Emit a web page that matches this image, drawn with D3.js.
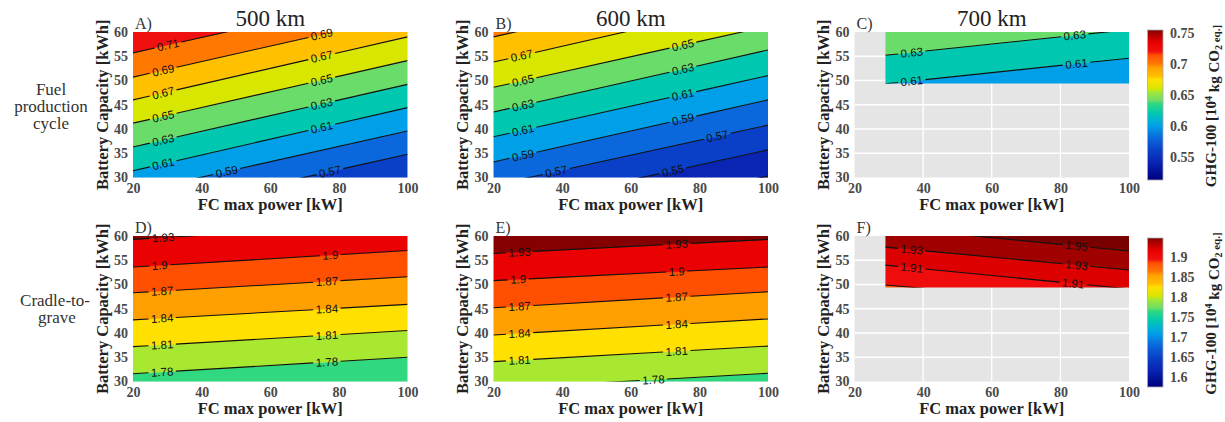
<!DOCTYPE html>
<html>
<head>
<meta charset="utf-8">
<script src="https://cdnjs.cloudflare.com/ajax/libs/d3/7.8.5/d3.min.js"></script>
<style>
  body { margin: 0; background: #fff; }
  .axis text { font-family: "Liberation Serif", serif; font-weight: bold; font-size: 14px; fill: #4a4a4a; }
  .axisLabel { font-family: "Liberation Serif", serif; font-weight: bold; font-size: 16.5px; fill: #222; }
  .panelTitle { font-family: "Liberation Serif", serif; font-size: 23px; fill: #222; }
  .panelLetter { font-family: "Liberation Serif", serif; font-size: 16px; fill: #333; }
  .rowName { font-family: "Liberation Serif", serif; font-size: 17px; fill: #333; }
  .clabel { font-family: "Liberation Sans", Arial, sans-serif; font-size: 11.5px; fill: #111; }
</style>
</head>
<body>
<div id="chart"></div>
<script>

//////////////////////////////////////////////////////////////
///////////////////////////// Data ///////////////////////////
//////////////////////////////////////////////////////////////

var powerTicks = [20, 40, 60, 80, 100];
var capacityTicks = [30, 35, 40, 45, 50, 55, 60];
var rangeTitles = ["500 km", "600 km", "700 km"];
var rowNames = [["Fuel", "production", "cycle"], ["Cradle-to-", "grave"]];
var panelLetters = ["A)", "B)", "C)", "D)", "E)", "F)"];

//power / capacity extent of the solved region
var fullPower = [20, 100], fullCap = [30, 60];
var power700 = [29, 100], cap700 = [49.4, 60];

//GHG-100 contour levels and the battery capacity [kWh] where each line
//meets the left and right edge of the solved region
var fuel500Levels = [0.57, 0.59, 0.61, 0.63, 0.65, 0.67, 0.69, 0.71];
var fuel500Left   = [22.1, 26.9, 31.4, 36.3, 41.2, 46.0, 50.7, 55.7];
var fuel500Right  = [34.8, 39.6, 44.4, 49.2, 54.1, 59.0, 63.5, 68.4];

var fuel600Levels = [0.53, 0.55, 0.57, 0.59, 0.61, 0.63, 0.65, 0.67, 0.69];
var fuel600Left   = [17.9, 23.3, 28.4, 33.2, 38.4, 43.5, 48.6, 53.8, 59.0];
var fuel600Right  = [30.3, 35.7, 40.8, 46.0, 51.0, 56.3, 61.2, 66.8, 71.8];

var fuel700Levels = [0.61, 0.63];
var fuel700Left   = [49.3, 55.2];
var fuel700Right  = [54.6, 60.5];

var grave500Levels = [1.78, 1.81, 1.84, 1.87, 1.90, 1.93];
var grave500Left   = [31.6, 37.2, 42.7, 48.3, 53.6, 59.3];
var grave500Right  = [35.0, 40.5, 45.9, 51.6, 57.0, 62.7];

var grave600Levels = [1.78, 1.81, 1.84, 1.87, 1.90, 1.93];
var grave600Left   = [28.5, 34.1, 39.6, 45.2, 50.8, 56.4];
var grave600Right  = [31.7, 37.3, 42.9, 48.5, 53.6, 59.3];

var grave700Levels = [1.89, 1.91, 1.93, 1.95];
var grave700Left   = [49.9, 54.0, 57.7, 61.8];
var grave700Right  = [45.5, 49.1, 53.0, 56.9];

//colour bars
var fuelBarDomain = [0.512, 0.755], graveBarDomain = [1.575, 1.9475];
var fuelBarTicks = [0.55, 0.6, 0.65, 0.7, 0.75];
var graveBarTicks = [1.6, 1.65, 1.7, 1.75, 1.8, 1.85, 1.9];

//inline contour labels: [level, power where the label sits]
var fuel500Labels = [[0.57, 77.4], [0.59, 47.3], [0.61, 28.8], [0.61, 75], [0.63, 28.8], [0.63, 75], [0.65, 28.8], [0.65, 75], [0.67, 28.8], [0.67, 75], [0.69, 28.8], [0.69, 75], [0.71, 30.2]];
var fuel600Labels = [[0.55, 72.3], [0.57, 38.3], [0.57, 85.2], [0.59, 28.6], [0.59, 75.2], [0.61, 28.6], [0.61, 75.2], [0.63, 28.6], [0.63, 75.2], [0.65, 28.6], [0.65, 75.2], [0.67, 28.2]];
var fuel700Labels = [[0.61, 36.7], [0.61, 84.7], [0.63, 36.7], [0.63, 84.2]];
var grave500Labels = [[1.78, 28.5], [1.78, 76.5], [1.81, 28.5], [1.81, 76.5], [1.84, 28.5], [1.84, 76.5], [1.87, 28.5], [1.87, 76.5], [1.90, 27.8], [1.90, 77.5], [1.93, 28.8]];
var grave600Labels = [[1.78, 66.6], [1.81, 27.6], [1.81, 73.4], [1.84, 27.6], [1.84, 73.4], [1.87, 27.6], [1.87, 73.4], [1.90, 27.2], [1.90, 73.4], [1.93, 27.6], [1.93, 73.4]];
var grave700Labels = [[1.91, 36.7], [1.91, 83.7], [1.93, 36.7], [1.93, 84.7], [1.95, 84.7]];

//////////////////////////////////////////////////////////////
//////////////////////// Set up the svg //////////////////////
//////////////////////////////////////////////////////////////

var width = 1225, height = 422;
var colLeft = [133, 493.5, 854.5], rowTop = [32, 236];
var plotW = 274.5, plotH = 145.5;

var svg = d3.select("#chart").append("svg")
  .attr("width", width)
  .attr("height", height);

var x = d3.scaleLinear().domain([20, 100]).range([0, plotW]);
var y = d3.scaleLinear().domain([30, 60]).range([plotH, 0]);

//jet-like colour map as it appears in the figure
var cmapStops = [0, 0.033, 0.115, 0.198, 0.28, 0.362, 0.444, 0.51, 0.527, 0.591, 0.609, 0.671, 0.691, 0.752, 0.774, 0.832, 0.856, 0.915, 0.98, 1];
var cmapColors = ["#00007c", "#000a8c", "#0a24b4", "#0a40c8", "#0a68dc", "#00a0e8", "#00c8b0", "#30d880", "#6adc6a", "#a8e830",
  "#d8e600", "#ffe000", "#ffc000", "#ffa000", "#ff7800", "#ff5000", "#f01010", "#ea0000", "#a00000", "#780000"];
var cmap = d3.scaleLinear().domain(cmapStops).range(cmapColors).clamp(true);
var rowNorm = [
  d3.scaleLinear().domain(fuelBarDomain).range([0, 1]),
  d3.scaleLinear().domain(graveBarDomain).range([0, 1])
];

var panels = [
  {row: 0, col: 0, levels: fuel500Levels, left: fuel500Left, right: fuel500Right, power: fullPower, cap: fullCap, labels: fuel500Labels},
  {row: 0, col: 1, levels: fuel600Levels, left: fuel600Left, right: fuel600Right, power: fullPower, cap: fullCap, labels: fuel600Labels},
  {row: 0, col: 2, levels: fuel700Levels, left: fuel700Left, right: fuel700Right, power: power700, cap: cap700, labels: fuel700Labels},
  {row: 1, col: 0, levels: grave500Levels, left: grave500Left, right: grave500Right, power: fullPower, cap: fullCap, labels: grave500Labels},
  {row: 1, col: 1, levels: grave600Levels, left: grave600Left, right: grave600Right, power: fullPower, cap: fullCap, labels: grave600Labels},
  {row: 1, col: 2, levels: grave700Levels, left: grave700Left, right: grave700Right, power: power700, cap: cap700, labels: grave700Labels}
];

var polygon = d3.line().x(function(d) { return x(d[0]); }).y(function(d) { return y(d[1]); });

//////////////////////////////////////////////////////////////
////////////////////////// Panels ////////////////////////////
//////////////////////////////////////////////////////////////

panels.forEach(function(p, i) {
  var g = svg.append("g")
    .attr("transform", "translate(" + colLeft[p.col] + "," + rowTop[p.row] + ")");

  //grey background + white grid
  g.append("rect").attr("width", plotW).attr("height", plotH).attr("fill", "#e5e5e5");
  g.selectAll(".vgrid").data(powerTicks.slice(1, -1)).enter().append("line")
    .attr("x1", x).attr("x2", x).attr("y1", 0).attr("y2", plotH)
    .attr("stroke", "#fff").attr("stroke-width", 1.3);
  g.selectAll(".hgrid").data(capacityTicks.slice(1, -1)).enter().append("line")
    .attr("y1", y).attr("y2", y).attr("x1", 0).attr("x2", plotW)
    .attr("stroke", "#fff").attr("stroke-width", 1.3);

  //clip to the solved region
  var clipId = "clip" + i;
  g.append("clipPath").attr("id", clipId).append("rect")
    .attr("x", x(p.power[0]))
    .attr("y", y(p.cap[1]))
    .attr("width", x(p.power[1]) - x(p.power[0]))
    .attr("height", y(p.cap[0]) - y(p.cap[1]));
  var field = g.append("g").attr("clip-path", "url(#" + clipId + ")");

  var n = p.levels.length;
  var step = p.levels[1] - p.levels[0];
  var norm = rowNorm[p.row];

  //filled bands between contour lines
  d3.range(n + 1).forEach(function(k) {
    var lo = k === 0 ? [-100, -100] : [p.left[k - 1], p.right[k - 1]];
    var hi = k === n ? [200, 200] : [p.left[k], p.right[k]];
    var mid = k === 0 ? p.levels[0] - step / 2 : (k === n ? p.levels[n - 1] + step / 2 : (p.levels[k - 1] + p.levels[k]) / 2);
    var pts = [[p.power[0], lo[0]], [p.power[1], lo[1]], [p.power[1], hi[1]], [p.power[0], hi[0]]];
    field.append("path")
      .attr("d", polygon(pts) + "Z")
      .attr("fill", cmap(norm(mid)))
      .attr("stroke", cmap(norm(mid)))
      .attr("stroke-width", 0.5);
  });

  //contour lines with inline labels
  p.levels.forEach(function(lev, k) {
    var x0 = x(p.power[0]), y0 = y(p.left[k]);
    var x1 = x(p.power[1]), y1 = y(p.right[k]);
    var len = Math.hypot(x1 - x0, y1 - y0);
    var ux = (x1 - x0) / len, uy = (y1 - y0) / len;
    var angle = Math.atan2(y1 - y0, x1 - x0) * 180 / Math.PI;

    var gaps = [];
    p.labels.filter(function(l) { return l[0] === lev; }).forEach(function(l) {
      var s = (x(l[1]) - x0) / ux;
      var px = x0 + ux * s, py = y0 + uy * s;
      var t = g.append("text")
        .attr("class", "clabel")
        .attr("text-anchor", "middle")
        .attr("dy", "0.35em")
        .attr("transform", "translate(" + px + "," + py + ") rotate(" + angle + ")")
        .text(String(+lev.toFixed(2)));
      var w = t.node().getComputedTextLength();
      gaps.push([s - w / 2 - 2.5, s + w / 2 + 2.5]);
    });
    gaps.sort(function(a, b) { return a[0] - b[0]; });

    var start = 0;
    gaps.concat([[len, len]]).forEach(function(gp) {
      if (gp[0] > start) {
        field.append("line")
          .attr("x1", x0 + ux * start).attr("y1", y0 + uy * start)
          .attr("x2", x0 + ux * gp[0]).attr("y2", y0 + uy * gp[0])
          .attr("stroke", "#111").attr("stroke-width", 1.1);
      }
      start = gp[1];
    });
  });

  //axes
  g.append("g").attr("class", "axis")
    .call(d3.axisLeft(y).tickValues(capacityTicks).tickSize(0).tickPadding(5))
    .call(function(a) { a.select(".domain").remove(); });
  g.append("g").attr("class", "axis")
    .attr("transform", "translate(0," + plotH + ")")
    .call(d3.axisBottom(x).tickValues(powerTicks).tickSize(0).tickPadding(6))
    .call(function(a) { a.select(".domain").remove(); });

  g.append("text").attr("class", "axisLabel")
    .attr("text-anchor", "middle")
    .attr("dy", "0.35em")
    .attr("transform", "translate(-31," + plotH / 2 + ") rotate(-90)")
    .text("Battery Capacity [kWh]");
  g.append("text").attr("class", "axisLabel")
    .attr("text-anchor", "middle")
    .attr("x", plotW / 2).attr("y", plotH + 32)
    .text("FC max power [kW]");

  g.append("text").attr("class", "panelLetter")
    .attr("x", 2).attr("y", -3)
    .text(panelLetters[i]);

  if (p.row === 0) {
    g.append("text").attr("class", "panelTitle")
      .attr("text-anchor", "middle")
      .attr("x", plotW / 2).attr("y", -6)
      .text(rangeTitles[p.col]);
  }
});

//////////////////////////////////////////////////////////////
////////////////////////// Row names /////////////////////////
//////////////////////////////////////////////////////////////

var rowNameX = [51, 55], rowNameY = [95, 306];
rowNames.forEach(function(lines, r) {
  lines.forEach(function(s, j) {
    svg.append("text").attr("class", "rowName")
      .attr("text-anchor", "middle")
      .attr("x", rowNameX[r] + (r === 1 && j === 1 ? 2 : 0))
      .attr("y", rowNameY[r] + j * 16.8)
      .text(s);
  });
});

//////////////////////////////////////////////////////////////
///////////////////////// Colour bars ////////////////////////
//////////////////////////////////////////////////////////////

var defs = svg.append("defs");
var grad = defs.append("linearGradient").attr("id", "jetGrad")
  .attr("x1", 0).attr("y1", 1).attr("x2", 0).attr("y2", 0);
grad.selectAll("stop").data(d3.range(0, 1.0001, 0.01)).enter().append("stop")
  .attr("offset", function(d) { return d; })
  .attr("stop-color", function(d) { return cmap(d); });

var bars = [
  {top: 30, h: 150, domain: fuelBarDomain, ticks: fuelBarTicks},
  {top: 238, h: 149, domain: graveBarDomain, ticks: graveBarTicks}
];
var barX = 1147.5, barW = 15.5;

bars.forEach(function(b) {
  var cy = d3.scaleLinear().domain(b.domain).range([b.top + b.h, b.top]);
  svg.append("rect")
    .attr("x", barX).attr("y", b.top).attr("width", barW).attr("height", b.h)
    .attr("fill", "url(#jetGrad)")
    .attr("stroke", "#aaa").attr("stroke-width", 0.8);
  svg.append("g").attr("class", "axis")
    .attr("transform", "translate(" + (barX + barW) + ",0)")
    .call(d3.axisRight(cy).tickValues(b.ticks).tickSize(0).tickPadding(7).tickFormat(function(d) { return String(d); }))
    .call(function(a) { a.select(".domain").remove(); });

  var lab = svg.append("text").attr("class", "axisLabel")
    .attr("text-anchor", "middle")
    .attr("dy", "0.35em")
    .style("font-size", "15px")
    .attr("transform", "translate(1211," + (b.top + b.h / 2 + 1) + ") rotate(-90)");
  lab.append("tspan").text("GHG-100 [10");
  lab.append("tspan").attr("dy", "-0.45em").style("font-size", "10px").text("4");
  lab.append("tspan").attr("dy", "0.45em").text(" kg CO");
  lab.append("tspan").attr("dy", "0.3em").style("font-size", "10px").text("2");
  lab.append("tspan").attr("dy", "-0.1em").style("font-size", "11px").text(" eq.]");
});

</script>
</body>
</html>
